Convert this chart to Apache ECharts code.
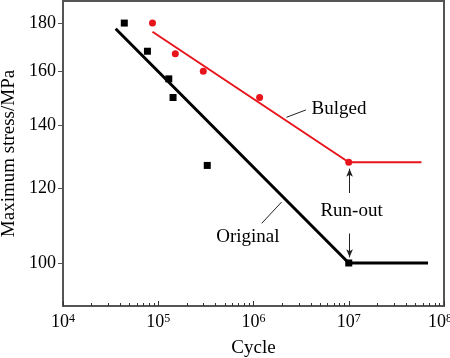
<!DOCTYPE html>
<html>
<head>
<meta charset="utf-8">
<script src="https://cdn.jsdelivr.net/npm/echarts@6/dist/echarts.min.js"></script>
<style>html,body{margin:0;padding:0;background:#fff}#c{width:450px;height:358px}</style>
</head>
<body>
<div id="c"></div>
<script>
// ---- data ----
const originalPoints = [[4.4e4,180],[7.7e4,168],[1.29e5,157],[1.43e5,150],[3.27e5,127],[1.0e7,100]];
const bulgedPoints = [[8.7e4,180],[1.51e5,167],[2.97e5,160],[1.16e6,150],[1.0e7,128]];
const originalFit = [[3.57e4,177.5],[1.0e7,100],[6.8e7,100]];
const bulgedFit = [[8.7e4,176.2],[1.0e7,128],[5.8e7,128]];
const xTickExps = [4,5,6,7,8];
const yTicks = [100,120,140,160,180];
const annotations = [
  {text:'Bulged', coord:[7.9e6,145.7]},
  {text:'Original', coord:[8.73e5,106.6]},
  {text:'Run-out', coord:[1.07e7,113.5]}
];
const leaderLines = [
  [[2.22e6,142.9],[3.55e6,145.5]],
  [[1.97e6,116.1],[1.22e6,110.2]]
];
const arrows = [
  [[1.02e7,118.7],[1.02e7,126.0]],
  [[1.02e7,107.5],[1.02e7,101.4]]
];

const FONT = 'Liberation Serif';
const majorX = xTickExps.map(e => Math.pow(10, e));
const minorX = [];
for (let e = 4; e < 8; e++) for (let k = 2; k <= 9; k++) minorX.push(k * Math.pow(10, e));
const lastExp = xTickExps[xTickExps.length - 1];

const chart = echarts.init(document.getElementById('c'));
chart.setOption({
  animation: false,
  backgroundColor: '#fff',
  textStyle: {fontFamily: FONT},
  grid: {left: 63, right: 6, top: 1, bottom: 52, show: true, borderColor: '#555', borderWidth: 2, containLabel: false, outerBoundsMode: 'none'},
  xAxis: [{
    type: 'log', logBase: 10, min: 1e4, max: 1e8, position: 'bottom',
    name: 'Cycle', nameLocation: 'middle', nameGap: 33,
    nameTextStyle: {fontFamily: FONT, fontSize: 19, color: '#000'},
    axisLine: {show: true, lineStyle: {color: '#555', width: 2}},
    axisTick: {show: true, inside: true, length: 3, customValues: minorX, lineStyle: {color: '#333', width: 1}},
    axisLabel: {
      customValues: majorX, margin: 7, color: '#000', hideOverlap: false,
      fontFamily: FONT, fontSize: 18,
      formatter: v => {
        const e = Math.round(Math.log10(v));
        return '{base|10}{' + (e === lastExp ? 'supEnd' : 'sup') + '|' + e + '}';
      },
      rich: {
        base: {fontFamily: FONT, fontSize: 18, color: '#000'},
        sup: {fontFamily: FONT, fontSize: 12, color: '#000', verticalAlign: 'top', padding: [0,0,6,0]},
        supEnd: {fontFamily: FONT, fontSize: 12, color: '#000', verticalAlign: 'top', padding: [0,8,6,0]}
      }
    },
    splitLine: {show: false}
  }, {
    type: 'log', logBase: 10, min: 1e4, max: 1e8, position: 'bottom', gridIndex: 0,
    axisLine: {show: false},
    axisTick: {show: true, inside: true, length: 5, customValues: majorX, lineStyle: {color: '#333', width: 1}},
    axisLabel: {show: false},
    splitLine: {show: false}
  }],
  yAxis: {
    type: 'log', logBase: 10, min: 90, max: 190,
    name: 'Maximum stress/MPa', nameLocation: 'middle', nameGap: 42,
    nameTextStyle: {fontFamily: FONT, fontSize: 19, color: '#000'},
    axisLine: {show: true, lineStyle: {color: '#555', width: 2}},
    axisTick: {show: true, inside: false, length: 5, customValues: yTicks, lineStyle: {color: '#555', width: 1}},
    axisLabel: {customValues: yTicks, margin: 7, fontFamily: FONT, fontSize: 18, color: '#000'},
    splitLine: {show: false}
  },
  series: [
    {type: 'line', data: originalFit, symbol: 'none', lineStyle: {color: '#000', width: 3}, z: 2},
    {type: 'line', data: bulgedFit, symbol: 'none', lineStyle: {color: '#e8141c', width: 2}, z: 2},
    {type: 'scatter', data: originalPoints, symbol: 'rect', symbolSize: 7, itemStyle: {color: '#000', opacity: 1}, z: 3},
    {type: 'scatter', data: bulgedPoints, symbol: 'circle', symbolSize: 7, itemStyle: {color: '#e8141c', opacity: 1}, z: 3,
      markLine: {
        silent: true, animation: false,
        data: leaderLines.map(l => [{coord: l[0], symbol: 'none'}, {coord: l[1], symbol: 'none'}])
          .concat(arrows.map(a => [{coord: a[0], symbol: 'none'}, {coord: a[1], symbol: 'arrow', symbolSize: [5, 8]}])),
        lineStyle: {color: '#222', width: 1, type: 'solid'},
        label: {show: false}
      },
      markPoint: {
        silent: true, animation: false,
        data: annotations.map(a => ({coord: a.coord, value: a.text, symbolSize: 0,
          label: {show: true, position: 'inside', formatter: a.text, fontFamily: FONT, fontSize: 19, color: '#000'}}))
      }
    }
  ]
});
</script>
</body>
</html>
